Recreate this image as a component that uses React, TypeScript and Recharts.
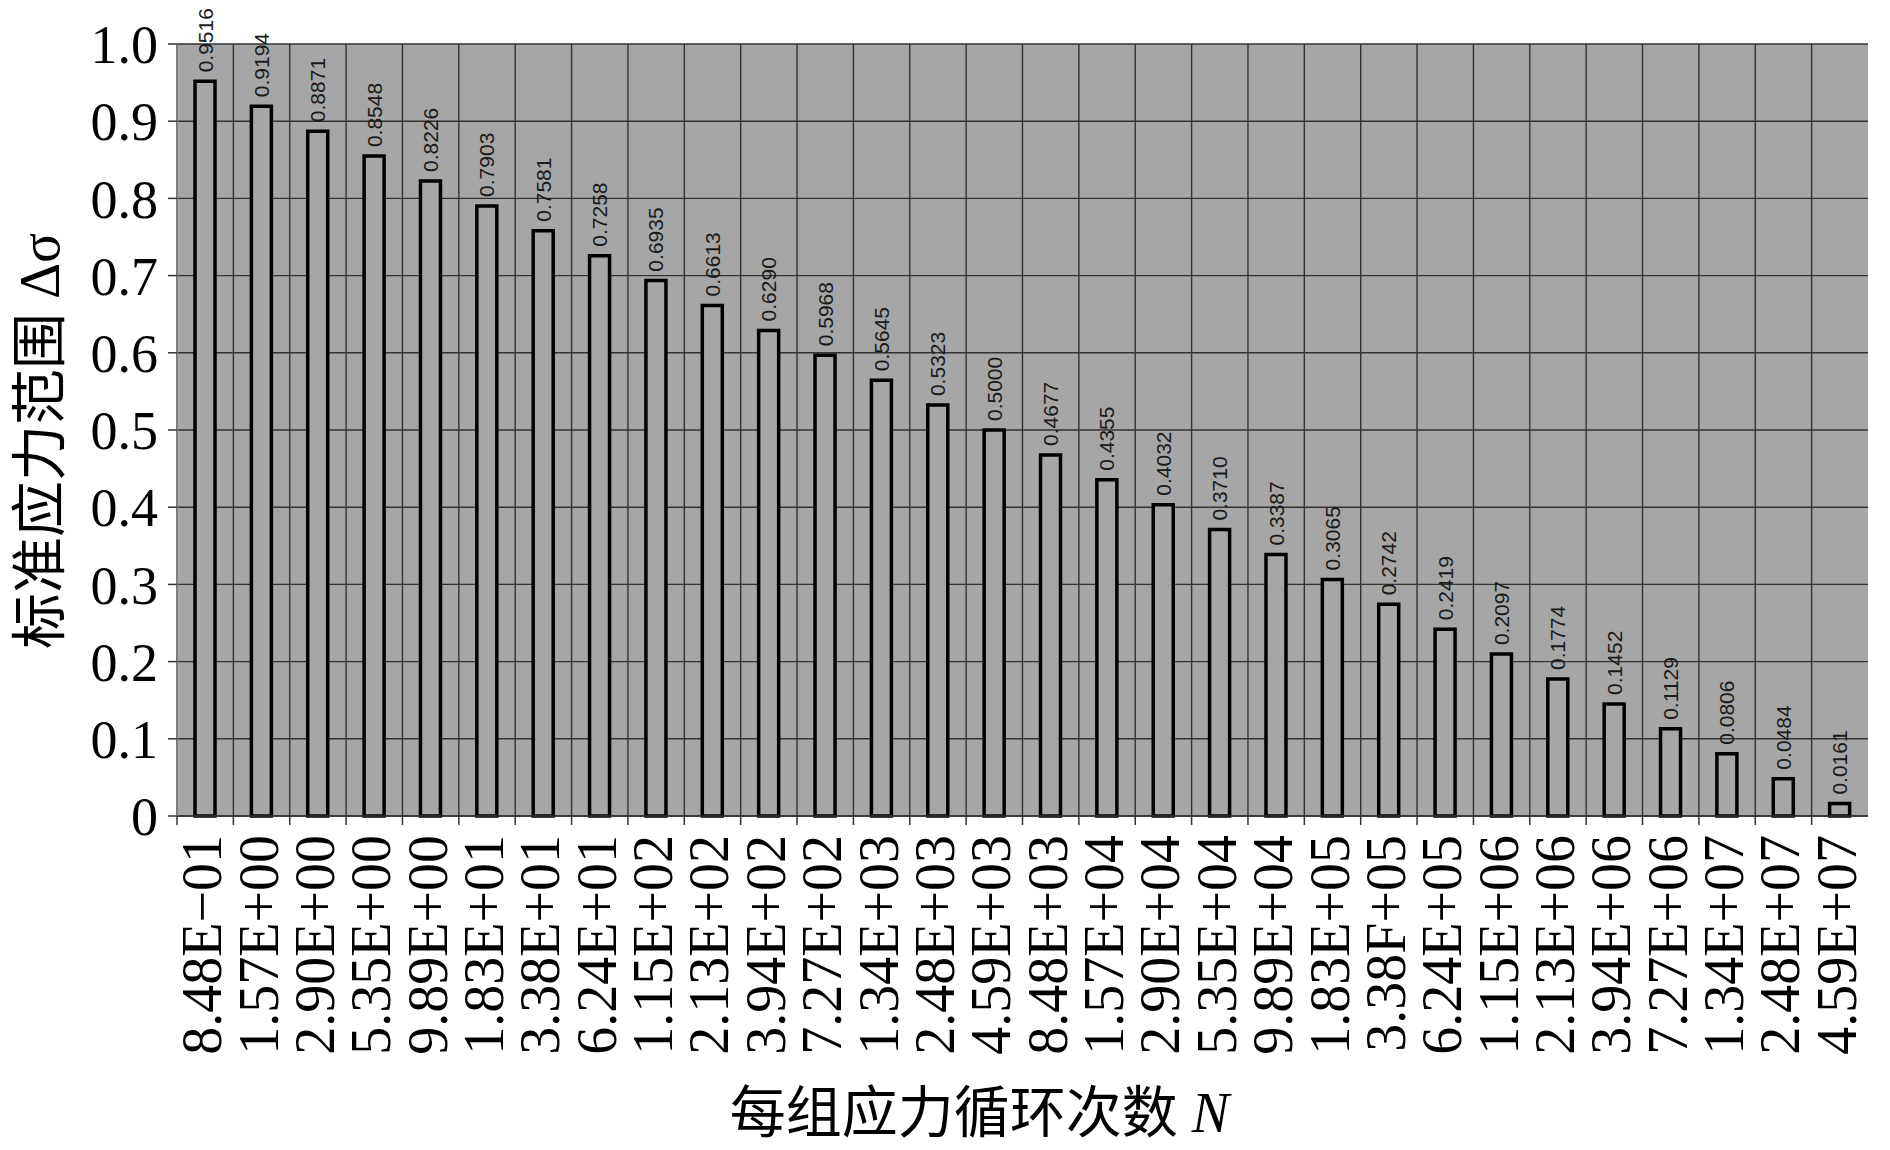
import React from 'react';
import { BarChart, Bar, XAxis, YAxis, CartesianGrid, LabelList, Label } from 'recharts';

const cycleLabels = [
  '8.48E−01', '1.57E+00', '2.90E+00', '5.35E+00', '9.89E+00', '1.83E+01',
  '3.38E+01', '6.24E+01', '1.15E+02', '2.13E+02', '3.94E+02', '7.27E+02',
  '1.34E+03', '2.48E+03', '4.59E+03', '8.48E+03', '1.57E+04', '2.90E+04',
  '5.35E+04', '9.89E+04', '1.83E+05', '3.38F+05', '6.24E+05', '1.15E+06',
  '2.13E+06', '3.94E+06', '7.27E+06', '1.34E+07', '2.48E+07', '4.59E+07',
];

const stressRange = [
  0.9516, 0.9194, 0.8871, 0.8548, 0.8226, 0.7903, 0.7581, 0.7258, 0.6935, 0.6613,
  0.6290, 0.5968, 0.5645, 0.5323, 0.5000, 0.4677, 0.4355, 0.4032, 0.3710, 0.3387,
  0.3065, 0.2742, 0.2419, 0.2097, 0.1774, 0.1452, 0.1129, 0.0806, 0.0484, 0.0161,
];

const yTicks = [0, 0.1, 0.2, 0.3, 0.4, 0.5, 0.6, 0.7, 0.8, 0.9, 1.0];

const yAxisTitle = '标准应力范围 Δσ';
const xAxisTitle = '每组应力循环次数';
const xAxisVar = 'N';

const data = cycleLabels.map((n, i) => ({ n, v: stressRange[i] }));

const CHART_W = 1890;
const CHART_H = 1150;
const MARGIN = { top: 44, right: 22, left: 0, bottom: 0 };
const YAXIS_W = 177;
const XAXIS_H = 334;
const PLOT_W = CHART_W - MARGIN.left - MARGIN.right - YAXIS_W;
const BAND = PLOT_W / cycleLabels.length;
const TICK_SIZE = 9;
const X_TICK_MARGIN = 10;

const SERIF = '"Liberation Serif", "Times New Roman", "Noto Sans CJK SC", serif';
const SANS = '"Liberation Sans", Arial, sans-serif';
const BG = '#a6a6a6';
const GRID = '#333333';

function XTick(props: any) {
  const { x, y, payload } = props;
  const axisY = y - TICK_SIZE - X_TICK_MARGIN;
  const bx = x - BAND / 2;
  return (
    <g>
      <line x1={bx} x2={bx} y1={axisY} y2={axisY + TICK_SIZE} stroke={GRID} strokeWidth={1.5} />
      <text
        x={x}
        y={y}
        transform={`rotate(-90 ${x} ${y})`}
        textAnchor="end"
        dy={16}
        fontFamily={SERIF}
        fontSize={56}
        fill="#000"
      >
        {payload.value}
      </text>
    </g>
  );
}

function ValueLabel(props: any) {
  const { x, y, width, value } = props;
  const cx = x + width / 2;
  const ty = y - 9;
  return (
    <text
      x={cx}
      y={ty}
      transform={`rotate(-90 ${cx} ${ty})`}
      textAnchor="start"
      dy="0.36em"
      fontFamily={SANS}
      fontSize={21}
      fill="#1a1a1a"
    >
      {Number(value).toFixed(4)}
    </text>
  );
}

export default function App() {
  return (
    <div style={{ position: 'absolute', left: 0, top: 0, background: '#fff' }}>
      <BarChart width={CHART_W} height={CHART_H} data={data} margin={MARGIN}>
        <CartesianGrid
          fill={BG}
          fillOpacity={1}
          stroke={GRID}
          strokeWidth={1.4}
          verticalCoordinatesGenerator={({ offset }: any) =>
            cycleLabels.map((_, i) => offset.left + (i * offset.width) / cycleLabels.length)
          }
        />
        <XAxis
          dataKey="n"
          type="category"
          height={XAXIS_H}
          interval={0}
          tickLine={false}
          tickSize={TICK_SIZE}
          tickMargin={X_TICK_MARGIN}
          axisLine={{ stroke: GRID, strokeWidth: 1.5 }}
          tick={<XTick />}
        >
          <Label
            content={({ viewBox }: any) => {
              const cx = viewBox.x + viewBox.width / 2 - 43;
              const by = viewBox.y + viewBox.height - 18;
              return (
                <text x={cx} y={by} textAnchor="middle" fontFamily={SERIF} fontSize={56} fill="#000">
                  {xAxisTitle}
                  <tspan fontStyle="italic"> {xAxisVar}</tspan>
                </text>
              );
            }}
          />
        </XAxis>
        <YAxis
          type="number"
          domain={[0, 1]}
          ticks={yTicks}
          width={YAXIS_W}
          tickSize={TICK_SIZE}
          tickMargin={10}
          tickLine={{ stroke: GRID, strokeWidth: 1.5 }}
          axisLine={{ stroke: '#7f7f7f', strokeWidth: 2 }}
          tickFormatter={(v: number) => (v === 0 ? '0' : v.toFixed(1))}
          tick={{ fontFamily: SERIF, fontSize: 54, fill: '#000' }}
        >
          <Label
            content={({ viewBox }: any) => {
              const cx = viewBox.x + 39;
              const cy = 441;
              return (
                <text
                  x={cx}
                  y={cy}
                  transform={`rotate(-90 ${cx} ${cy})`}
                  textAnchor="middle"
                  dy="0.36em"
                  fontFamily={SERIF}
                  fontSize={56}
                  fill="#000"
                >
                  {yAxisTitle}
                </text>
              );
            }}
          />
        </YAxis>
        <Bar
          dataKey="v"
          barSize={20}
          fill={BG}
          stroke="#000"
          strokeWidth={3.5}
          isAnimationActive={false}
        >
          <LabelList dataKey="v" content={<ValueLabel />} />
        </Bar>
      </BarChart>
    </div>
  );
}
